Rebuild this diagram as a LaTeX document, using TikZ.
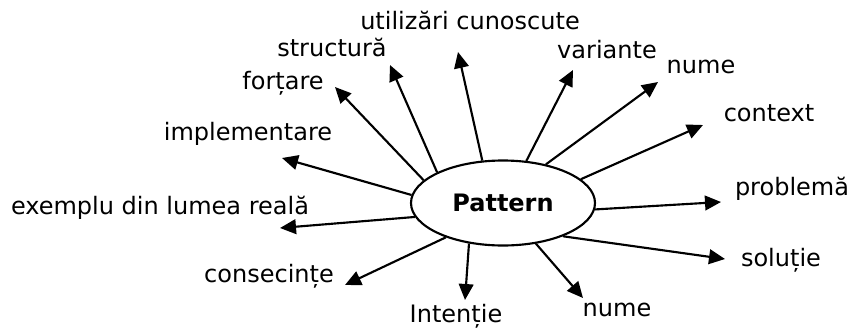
\documentclass[tikz,border=0pt]{standalone}
\usepackage{fontspec}
\setmainfont{DejaVu Sans}
\usetikzlibrary{arrows.meta,shapes.geometric}

\begin{document}
\begin{tikzpicture}[
  x=0.75pt, y=-0.75pt,
  font=\fontsize{18}{21}\selectfont,
  core/.style={draw, ellipse, line width=1.6pt, minimum width=138pt,
               minimum height=63.75pt, inner sep=0pt,
               font=\fontsize{18}{21}\selectfont\bfseries},
  item/.style={inner sep=0pt},
  arrow/.style={-{Triangle[length=12pt, width=11pt]}, line width=1.6pt}
]
\useasboundingbox (0,0) rectangle (853,329);
\node[core] (pattern) at (503,203) {Pattern};
% labels round the ellipse
\node[item] (uses)     at (470,20)  {utilizări cunoscute};
\node[item] (struct)   at (332,47)  {structură};
\node[item] (forces)   at (283,83)  {forțare};
\node[item] (impl)     at (248,134) {implementare};
\node[item] (example)  at (160,208) {exemplu din lumea reală};
\node[item] (conseq)   at (269,276) {consecințe};
\node[item] (intent)   at (456,316) {Intenție};
\node[item] (nameb)    at (617,310) {nume};
\node[item] (solution) at (781,260) {soluție};
\node[item] (problem)  at (792,189) {problemă};
\node[item] (context)  at (769,113) {context};
\node[item] (namet)    at (701,67)  {nume};
\node[item] (variants) at (607,50)  {variante};
% arrow tips
\coordinate (usesT)     at (458,52);
\coordinate (structT)   at (390,65);
\coordinate (forcesT)   at (335,87);
\coordinate (implT)     at (282,158);
\coordinate (exampleT)  at (280,228);
\coordinate (conseqT)   at (345,285);
\coordinate (intentT)   at (465,300);
\coordinate (namebT)    at (583,298);
\coordinate (solutionT) at (725,259);
\coordinate (problemT)  at (721,202);
\coordinate (contextT)  at (703,125);
\coordinate (nametT)    at (658,82);
\coordinate (variantsT) at (573,70);
\draw[arrow] (pattern.116)   -- (usesT);
\draw[arrow] (pattern.155.6) -- (structT);
\draw[arrow] (pattern.164.6) -- (forcesT);
\draw[arrow] (pattern.175.6) -- (implT);
\draw[arrow] (pattern.189.4) -- (exampleT);
\draw[arrow] (pattern.211.3) -- (conseqT);
\draw[arrow] (pattern.230.2) -- (intentT);
\draw[arrow] (pattern.309)   -- (namebT);
\draw[arrow] (pattern.331.2) -- (solutionT);
\draw[arrow] (pattern.356.9) -- (problemT);
\draw[arrow] (pattern.17.3)  -- (contextT);
\draw[arrow] (pattern.42.9)  -- (nametT);
\draw[arrow] (pattern.61)    -- (variantsT);
\end{tikzpicture}
\end{document}
